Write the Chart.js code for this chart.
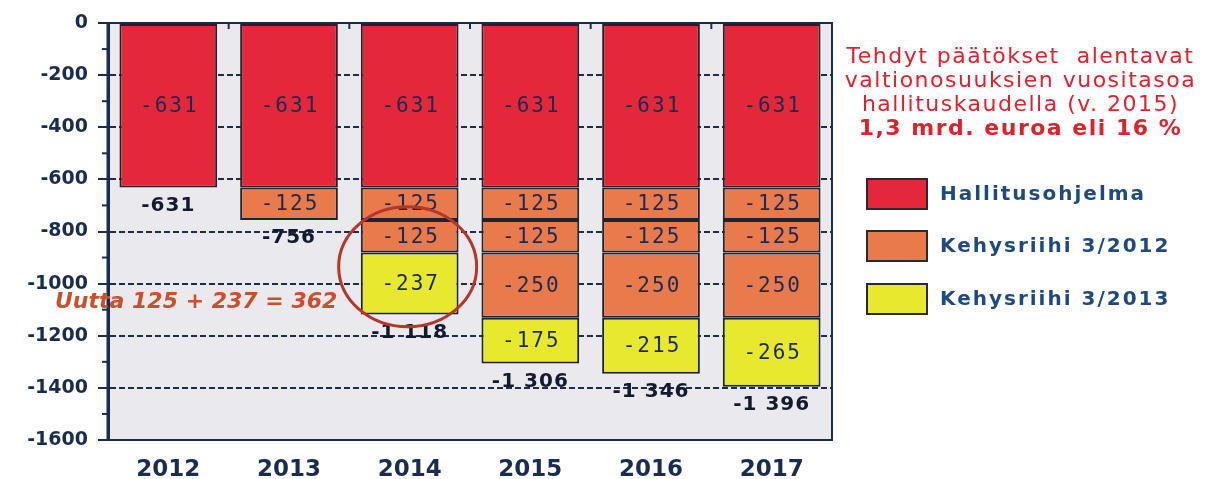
<!DOCTYPE html>
<html>
<head>
<meta charset="utf-8">
<script src="https://cdn.jsdelivr.net/npm/chart.js@4.4.1/dist/chart.umd.min.js"></script>
<style>
  body { margin: 0; background: #fff; }
  #wrap { position: relative; width: 1219px; height: 479px; }
  #note { position: absolute; left: 822px; top: 44px; width: 397px; text-align: center;
          font-family: "DejaVu Sans", sans-serif; font-size: 22px; line-height: 24px; color: #e0202e; letter-spacing: 1.5px; }
  .leg { position: absolute; left: 866px; font-family: "DejaVu Sans", sans-serif; font-weight: bold; font-size: 20px;
         letter-spacing: 2px; color: #1f4a80; }
  .leg span { position: absolute; left: 0; top: 0; width: 58px; height: 28px; border: 2px solid #2a2a2a; }
  .leg div { position: absolute; left: 74px; top: 3px; white-space: nowrap; }
</style>
</head>
<body>
<div id="wrap">
  <canvas id="myChart" width="1219" height="479"></canvas>
  <div id="note">Tehdyt päätökset&nbsp; alentavat<br>valtionosuuksien vuositasoa<br>hallituskaudella (v. 2015)<br><b>1,3 mrd. euroa eli 16 %</b></div>
  <div class="leg" style="top:178px"><span style="background:#e4283a"></span><div>Hallitusohjelma</div></div>
  <div class="leg" style="top:230px"><span style="background:#e97a4c"></span><div>Kehysriihi 3/2012</div></div>
  <div class="leg" style="top:283px"><span style="background:#e8e82e"></span><div>Kehysriihi 3/2013</div></div>
</div>
<script>
'use strict';

let years = ['2012', '2013', '2014', '2015', '2016', '2017'];
let hallitusohjelma = [-631, -631, -631, -631, -631, -631];
let kehys2012a = [null, -125, -125, -125, -125, -125];
let kehys2012b = [null, null, -125, -125, -125, -125];
let kehys2012c = [null, null, null, -250, -250, -250];
let kehys2013 = [null, null, -237, -175, -215, -265];
let yTicks = [0, -200, -400, -600, -800, -1000, -1200, -1400, -1600];
let annotation = 'Uutta 125 + 237 = 362';

let red = '#e4283a';
let orange = '#e97a4c';
let yellow = '#e8e82e';
let navy = '#1a2d4f';

function makeSet(label, data, color) {
    return {
        label: label,
        data: data,
        backgroundColor: color,
        borderColor: '#1e2330',
        borderWidth: 2,
        borderSkipped: false,
        barPercentage: 0.81,
        categoryPercentage: 1
    };
}

function formatTotal(v) {
    let s = String(Math.abs(v));
    if (s.length > 3) s = s.slice(0, s.length - 3) + ' ' + s.slice(s.length - 3);
    return '-' + s;
}

let plotBack = {
    id: 'plotBack',
    beforeDraw(chart) {
        let a = chart.chartArea;
        let ctx = chart.ctx;
        ctx.save();
        ctx.fillStyle = '#e9e9ee';
        ctx.fillRect(a.left, a.top, a.right - a.left, a.bottom - a.top);
        ctx.restore();
    },
    afterDatasetsDraw(chart) {
        let a = chart.chartArea;
        let ctx = chart.ctx;
        let x = chart.scales.x;
        let y = chart.scales.y;
        ctx.save();
        // frame
        ctx.strokeStyle = navy;
        ctx.lineWidth = 2;
        ctx.strokeRect(a.left, a.top, a.right - a.left, a.bottom - a.top);
        ctx.lineWidth = 3;
        ctx.beginPath();
        ctx.moveTo(a.left, a.top);
        ctx.lineTo(a.left, a.bottom);
        ctx.stroke();
        // small category ticks at the top axis
        ctx.lineWidth = 2;
        for (let i = 1; i < years.length; i++) {
            let px = (x.getPixelForValue(i - 1) + x.getPixelForValue(i)) / 2;
            ctx.beginPath();
            ctx.moveTo(px, a.top);
            ctx.lineTo(px, a.top + 6);
            ctx.stroke();
        }
        // minor ticks on y axis
        for (let v = -100; v > -1600; v -= 200) {
            let py = y.getPixelForValue(v);
            ctx.beginPath();
            ctx.moveTo(a.left - 6, py);
            ctx.lineTo(a.left, py);
            ctx.stroke();
        }

        // segment labels
        ctx.textAlign = 'center';
        ctx.textBaseline = 'middle';
        ctx.font = '21px "DejaVu Sans Mono", monospace';
        ctx.letterSpacing = '2px';
        ctx.fillStyle = '#1b2a55';
        chart.data.datasets.forEach((ds, di) => {
            let meta = chart.getDatasetMeta(di);
            meta.data.forEach((bar, i) => {
                if (ds.data[i] == null) return;
                let mid = (bar.y + bar.base) / 2;
                ctx.fillText(ds.data[i], bar.x + 1, mid + 1);
            });
        });

        // totals under bars
        ctx.font = 'bold 20px "DejaVu Sans", sans-serif';
        ctx.letterSpacing = '1px';
        ctx.fillStyle = '#121a2e';
        for (let i = 0; i < years.length; i++) {
            let total = 0;
            chart.data.datasets.forEach(ds => { total += ds.data[i] || 0; });
            ctx.fillText(formatTotal(total), x.getPixelForValue(i), y.getPixelForValue(total) + 18);
        }

        // circle around 2014 additions
        ctx.strokeStyle = '#b8352a';
        ctx.lineWidth = 3;
        ctx.beginPath();
        ctx.ellipse(x.getPixelForValue(2) - 2, y.getPixelForValue(-935), 69, 60, 0, 0, Math.PI * 2);
        ctx.stroke();

        // annotation
        ctx.font = 'italic bold 22px "DejaVu Sans", sans-serif';
        ctx.letterSpacing = '0px';
        ctx.fillStyle = '#c8502a';
        ctx.textAlign = 'left';
        ctx.fillText(annotation, 55, y.getPixelForValue(-1070));
        ctx.restore();
    }
};

function chartRender() {
    let ctx = document.getElementById('myChart').getContext('2d');
    let myChart = new Chart(ctx, {
        type: 'bar',
        data: {
            labels: years,
            datasets: [
                makeSet('Hallitusohjelma', hallitusohjelma, red),
                makeSet('Kehysriihi 3/2012', kehys2012a, orange),
                makeSet('Kehysriihi 3/2012 b', kehys2012b, orange),
                makeSet('Kehysriihi 3/2012 c', kehys2012c, orange),
                makeSet('Kehysriihi 3/2013', kehys2013, yellow)
            ]
        },
        options: {
            responsive: false,
            animation: false,
            layout: { padding: { top: 23, right: 387, left: 0, bottom: 0 } },
            plugins: { legend: { display: false }, tooltip: { enabled: false } },
            scales: {
                x: {
                    stacked: true,
                    grid: { display: false },
                    border: { display: false },
                    ticks: { color: navy, font: { family: 'DejaVu Sans', size: 23, weight: 'bold' }, padding: 8 },
                    afterFit(scale) { scale.height = 39; }
                },
                y: {
                    stacked: true,
                    min: -1600,
                    max: 0,
                    afterBuildTicks(scale) { scale.ticks = yTicks.map(v => ({ value: v })); },
                    grid: {
                        color: navy,
                        lineWidth: 2,
                        tickLength: 10,
                        tickColor: navy
                    },
                    border: { display: true, color: navy, width: 3, dash: [6, 3] },
                    ticks: {
                        color: navy,
                        font: { family: 'DejaVu Sans', size: 19, weight: 'bold' },
                        padding: 10,
                        callback: v => String(v)
                    },
                    afterFit(scale) { scale.width = 108; }
                }
            }
        },
        plugins: [plotBack]
    });
}
chartRender();
</script>
</body>
</html>
